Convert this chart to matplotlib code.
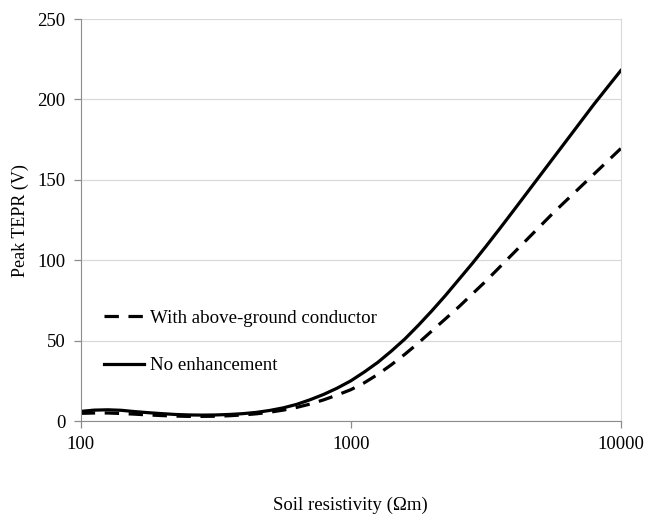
import matplotlib.pyplot as plt

# soil resistivity (ohm-m), sampled at 20 points per decade
rho = [100, 112, 126, 141, 158, 178, 200, 224, 251, 282, 316, 355, 398, 447,
       501, 562, 631, 708, 794, 891, 1000, 1122, 1259, 1413, 1585, 1778, 1995,
       2239, 2512, 2818, 3162, 3548, 3981, 4467, 5012, 5623, 6310, 7079, 7943,
       8913, 10000]

# peak TEPR (V)
tepr_none = [6.0, 6.8, 7.0, 6.7, 5.9, 5.2, 4.6, 4.1, 3.8, 3.7, 3.8, 4.1, 4.6, 5.4,
             6.6, 8.2, 10.4, 13.3, 16.6, 20.5, 25.0, 30.5, 36.5, 43.5, 51.0, 59.5,
             68.5, 78.0, 88.0, 98.0, 108.5, 119.3, 130.3, 141.4, 152.5, 163.6,
             174.7, 185.8, 196.9, 207.5, 218.0]
tepr_agc = [4.8, 5.0, 5.0, 4.7, 4.3, 3.8, 3.4, 3.1, 2.9, 2.9, 3.0, 3.3, 3.8, 4.5,
            5.5, 6.8, 8.5, 10.6, 13.2, 16.2, 19.5, 23.8, 29.0, 35.0, 41.5, 48.5,
            56.0, 63.5, 71.0, 79.0, 87.0, 95.5, 104.0, 112.5, 121.0, 129.5, 137.5,
            145.5, 153.5, 161.5, 169.5]

plt.rcParams['font.family'] = ['Liberation Serif', 'DejaVu Serif']
plt.rcParams['font.size'] = 13

fig = plt.figure(figsize=(6.46, 5.16), dpi=100)
ax = fig.add_axes([0.125, 0.184, 0.836, 0.779])

ax.plot(rho, tepr_agc, color='black', lw=2.3, ls=(0, (4.5, 3)),
        label='With above-ground conductor')
ax.plot(rho, tepr_none, color='black', lw=2.3, label='No enhancement')

ax.set_xscale('log')
ax.set_xlim(100, 10000)
ax.set_ylim(0, 250)
ax.set_xticks([100, 1000, 10000])
ax.set_xticklabels(['100', '1000', '10000'])
ax.minorticks_off()
ax.set_yticks(range(0, 251, 50))

ax.yaxis.grid(True, color='#d9d9d9', lw=0.9)
ax.set_axisbelow(True)
ax.spines['top'].set_visible(False)
for side in ['left', 'bottom']:
    ax.spines[side].set_color('#8c8c8c')
ax.spines['right'].set_color('#d9d9d9')
ax.tick_params(axis='both', color='#8c8c8c', length=5, width=0.9, labelsize=13.5)
ax.tick_params(axis='x', pad=6)
ax.tick_params(axis='y', pad=6)

ax.set_xlabel('Soil resistivity (Ωm)', fontsize=13.5, labelpad=31)
ax.set_ylabel('Peak TEPR (V)', fontsize=13, labelpad=6)

ax.legend(loc='lower left', bbox_to_anchor=(0.012, 0.074), frameon=False,
          fontsize=13.6, labelspacing=1.6, handlelength=2.1, handletextpad=0.3)

fig.savefig('out.png', dpi=100)
